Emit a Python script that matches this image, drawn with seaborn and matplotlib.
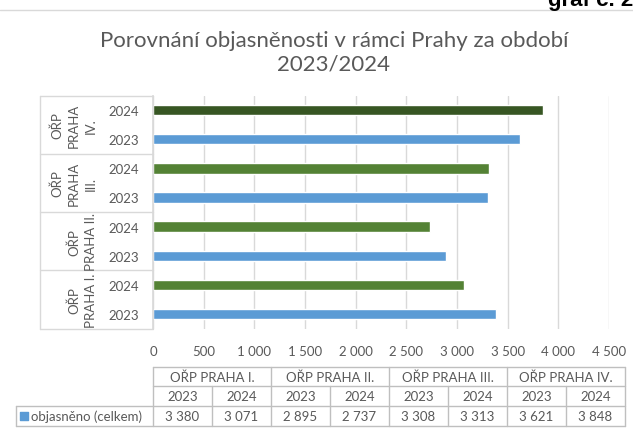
import numpy as np
import pandas as pd
import matplotlib
matplotlib.use("Agg")
import matplotlib.pyplot as plt
import matplotlib.transforms as mtransforms
from matplotlib.ticker import FuncFormatter, MultipleLocator
import seaborn as sns

# Data (objasněno celkem)
skupiny = ["OŘP PRAHA I.", "OŘP PRAHA II.", "OŘP PRAHA III.", "OŘP PRAHA IV."]
popisky_os = ["OŘP\nPRAHA I.", "OŘP\nPRAHA II.", "OŘP\nPRAHA\nIII.", "OŘP\nPRAHA\nIV."]
roky = ["2023", "2024"]
hodnoty_2023 = [3380, 2895, 3308, 3621]
hodnoty_2024 = [3071, 2737, 3313, 3848]

barva_2023 = "#5B9BD5"
barva_2024 = "#548235"
barva_2024_iv = "#375623"
sedy_text = "#595959"
mrizka = "#D9D9D9"

sns.set_theme(style="white")
plt.rcParams["font.family"] = ["Lato", "DejaVu Sans"]

# rows from top to bottom: IV 2024, IV 2023, III 2024, ...
radky, hodnoty, barvy, rok_radku = [], [], [], []
for i in reversed(range(len(skupiny))):
    for rok, vals in [("2024", hodnoty_2024), ("2023", hodnoty_2023)]:
        radky.append(f"{skupiny[i]} {rok}")
        hodnoty.append(vals[i])
        rok_radku.append(rok)
        if rok == "2023":
            barvy.append(barva_2023)
        elif i == len(skupiny) - 1:
            barvy.append(barva_2024_iv)
        else:
            barvy.append(barva_2024)
df = pd.DataFrame({"radek": radky, "hodnota": hodnoty})

W, H = 633, 439
fig = plt.figure(figsize=(W / 100, H / 100), dpi=100)
ax = fig.add_axes([153 / W, 1 - 329.6 / H, (609 - 153) / W, (329.6 - 96.5) / H])

sns.barplot(data=df, x="hodnota", y="radek", hue="radek", order=radky,
            palette=dict(zip(radky, barvy)), width=0.36, legend=False,
            orient="h", saturation=1, ax=ax)

ax.set_xlim(0, 4500)
ax.xaxis.set_major_locator(MultipleLocator(500))
ax.xaxis.set_major_formatter(FuncFormatter(lambda v, p: f"{v:,.0f}".replace(",", " ")))
ax.grid(axis="x", color=mrizka, linewidth=1)
ax.set_axisbelow(True)
ax.set_xlabel("")
ax.set_ylabel("")
ax.set_yticks(range(len(radky)))
ax.set_yticklabels(rok_radku)
ax.tick_params(axis="y", length=0, pad=10, labelsize=9.5, labelcolor=sedy_text)
ax.tick_params(axis="x", length=0, pad=12, labelsize=9.5, labelcolor=sedy_text)
for s in ["top", "right", "bottom"]:
    ax.spines[s].set_visible(False)
ax.spines["left"].set_color(mrizka)

# multi-level category labels on the left
trans = mtransforms.blended_transform_factory(fig.transFigure, ax.transData)
x_levy = 40 / W
x_osa = 153 / W
n = len(skupiny)
for k in range(n + 1):
    y = -0.5 + 2 * k
    ax.plot([x_levy, x_osa], [y, y], transform=trans, color=mrizka, lw=1, clip_on=False)
ax.plot([x_levy, x_levy], [-0.5, 2 * n - 0.5], transform=trans, color=mrizka, lw=1, clip_on=False)
for k in range(n):
    i = n - 1 - k
    ax.text(97 / W, 2 * k + 0.5, popisky_os[i], transform=trans, rotation=90,
            ha="right", va="center", multialignment="center", fontsize=9.5,
            color=sedy_text, linespacing=1.5)
ax.set_ylim(len(radky) - 0.5, -0.5)

# title and header
fig.text(334 / W, 1 - 53 / H, "Porovnání objasněnosti v rámci Prahy za období\n2023/2024",
         ha="center", va="center", fontsize=16, color=sedy_text, linespacing=1.2)
fig.text(548 / W, 1 - 6 / H, "graf č. 2", ha="left", va="baseline", fontsize=16,
         fontweight="bold", family=["Liberation Sans", "DejaVu Sans"], color="black")
fig.add_artist(plt.Line2D([0, 1], [1 - 10.5 / H, 1 - 10.5 / H], color=mrizka, lw=1))

# data table below the chart
tab = fig.add_axes([0, 0, 1, 1])
tab.set_xlim(0, W)
tab.set_ylim(H, 0)
tab.axis("off")
tx0, tx1 = 153, 625
ty = [368, 387, 407, 427]
cw = (tx1 - tx0) / 8
cara = "#BFBFBF"
for y in ty:
    tab.plot([16 if y >= ty[2] else tx0, tx1], [y, y], color=cara, lw=1)
tab.plot([16, 16], [ty[2], ty[3]], color=cara, lw=1)
for j in range(9):
    ystart = ty[0] if j % 2 == 0 else ty[1]
    tab.plot([tx0 + j * cw, tx0 + j * cw], [ystart, ty[3]], color=cara, lw=1)
for g, nazev in enumerate(skupiny):
    tab.text(tx0 + (2 * g + 1) * cw, (ty[0] + ty[1]) / 2, nazev, ha="center", va="center",
             fontsize=9.5, color=sedy_text)
    for r, (rok, vals) in enumerate(zip(roky, [hodnoty_2023, hodnoty_2024])):
        cx = tx0 + (2 * g + r + 0.5) * cw
        tab.text(cx, (ty[1] + ty[2]) / 2, rok, ha="center", va="center", fontsize=9.5, color=sedy_text)
        tab.text(cx, (ty[2] + ty[3]) / 2, f"{vals[g]:,}".replace(",", " "), ha="center",
                 va="center", fontsize=9.5, color=sedy_text)
tab.scatter([24], [(ty[2] + ty[3]) / 2], marker="s", s=36, color=barva_2023)
tab.text(31, (ty[2] + ty[3]) / 2, "objasněno (celkem)", ha="left", va="center",
         fontsize=9.5, color=sedy_text)

fig.savefig("out.png", dpi=100)
